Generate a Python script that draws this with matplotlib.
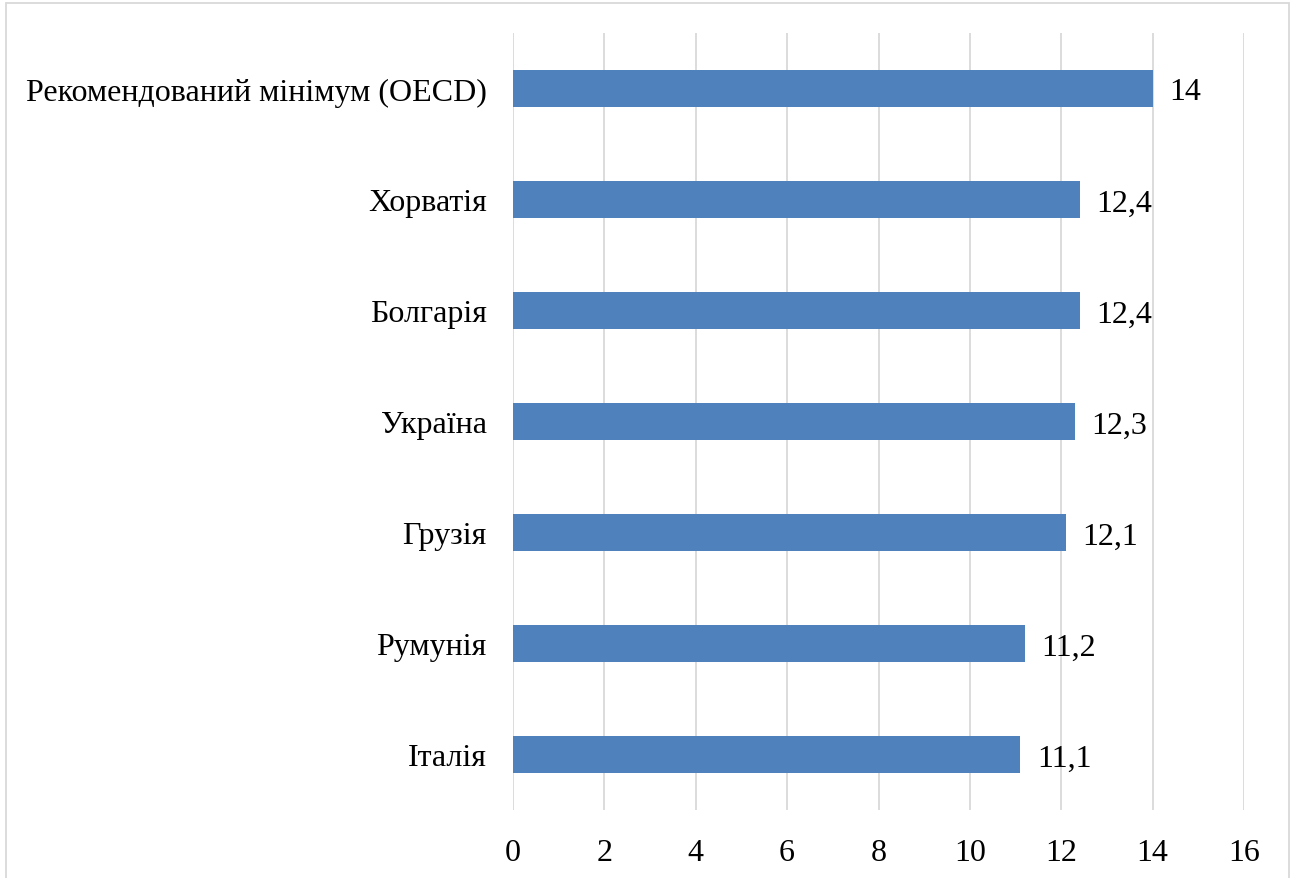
import matplotlib
matplotlib.use("Agg")
import matplotlib.pyplot as plt
from matplotlib.patches import Rectangle

categories = ["Рекомендований мінімум (OECD)", "Хорватія", "Болгарія", "Україна", "Грузія", "Румунія", "Італія"]
values = [14, 12.4, 12.4, 12.3, 12.1, 11.2, 11.1]
value_labels = ["14", "12,4", "12,4", "12,3", "12,1", "11,2", "11,1"]
xticks = [0, 2, 4, 6, 8, 10, 12, 14, 16]

plt.rcParams['font.family'] = ['Liberation Serif', 'DejaVu Serif']

W, H = 1293, 879
FS = 23
fig = plt.figure(figsize=(W/100, H/100), dpi=100)
ax = fig.add_axes([513/W, 1 - 811/H, (1244-513)/W, (811-34)/H])

ypos = list(range(len(categories)))
ax.barh(ypos, values, height=0.34, color='#4F81BD', zorder=3)
for y, v, lab in zip(ypos, values, value_labels):
    ax.annotate(lab, (v, y), xytext=(12, 0), textcoords='offset points',
                va='center_baseline', ha='left', fontsize=FS, color='black')

ax.set_xlim(0, 16)
ax.set_ylim(len(categories) - 0.5, -0.5)
ax.set_yticks(ypos)
ax.set_yticklabels(categories, fontsize=FS)
ax.set_xticks(xticks)
ax.set_xticklabels([str(t) for t in xticks], fontsize=FS)
ax.grid(axis='x', color='#D9D9D9', linewidth=1.3, zorder=0)
ax.tick_params(axis='both', length=0)
ax.tick_params(axis='y', pad=19)
ax.tick_params(axis='x', pad=20)
for s in ax.spines.values():
    s.set_visible(False)

fig.patches.append(Rectangle((6/W, -0.01), (1289-6)/W, 1 - 4/H + 0.01, transform=fig.transFigure,
                             fill=False, edgecolor='#D9D9D9', linewidth=1.3))

fig.savefig("out.png", dpi=100)
